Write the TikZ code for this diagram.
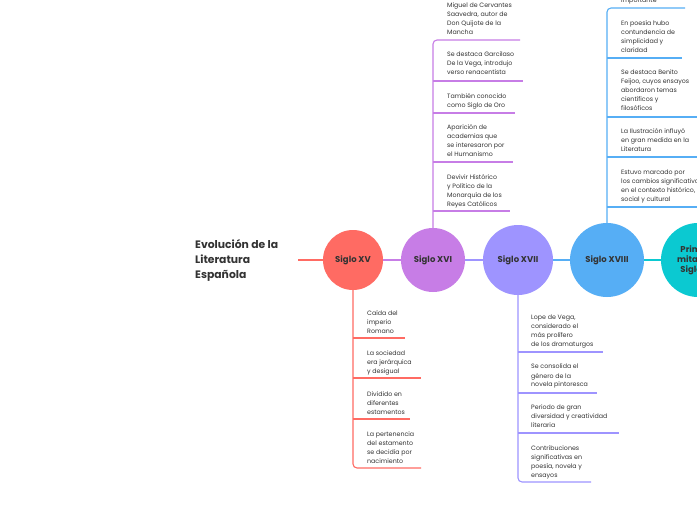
\documentclass[tikz,border=0pt]{standalone}
\usepackage{fontspec}
\setmainfont{Poppins}
\definecolor{cr}{HTML}{FF6B63}
\definecolor{cp}{HTML}{C77DE6}
\definecolor{cl}{HTML}{9E94FF}
\definecolor{cb}{HTML}{56AEF5}
\definecolor{ct}{HTML}{0BC9D1}
\definecolor{tx}{HTML}{333333}
\begin{document}
\begin{tikzpicture}[x=1pt,y=-1pt,
  item/.style={anchor=north west,inner sep=0pt,align=left,text=tx,font=\fontsize{6.3}{9}\selectfont},
  circ/.style={circle,inner sep=0pt,text=tx,font=\fontsize{8.5}{10}\selectfont\bfseries,align=center},
  br/.style={line width=1.1pt,rounded corners=4pt}]
\useasboundingbox (0,0) rectangle (697,520);
\clip (0,0) rectangle (697,520);
\fill[white] (0,0) rectangle (697,520);
% title
\node[anchor=north west,inner sep=0pt,align=left,text=tx,font=\fontsize{10.8}{15}\selectfont\bfseries] (title) at (195,239) {Evolución de la\\Literatura\\Española};
\coordinate (t0) at (298,260);
% circles
\node[circ,fill=cr,minimum size=60pt] (c15) at (353,260) {Siglo XV};
\node[circ,fill=cp,minimum size=64pt] (c16) at (433,260) {Siglo XVI};
\node[circ,fill=cl,minimum size=70pt] (c17) at (518,260) {Siglo XVII};
\node[circ,fill=cb,minimum size=74pt] (c18) at (607,260) {Siglo XVIII};
\node[circ,fill=ct,minimum size=74pt] (c19) at (698,260) {Primera\\mitad del\\Siglo XX};
\draw[cr,line width=1.6pt] (t0) -- (c15.west);
\draw[cp,line width=1.6pt] (c15.east) -- (c16.west);
\draw[cl,line width=1.6pt] (c16.east) -- (c17.west);
\draw[cb,line width=1.6pt] (c17.east) -- (c18.west);
\draw[ct,line width=1.6pt] (c18.east) -- (c19.west);
% Siglo XV
\draw[cr,br] (c15.south) -- (353,468) -- (421,468);
\draw[cr,line width=1.1pt] (353,338) -- (405,338);
\draw[cr,line width=1.1pt] (353,378) -- (421,378);
\draw[cr,line width=1.1pt] (353,419) -- (410,419);
\node[item] (a1) at (367,310) {Caída del\\imperio\\Romano};
\node[item] (a2) at (367,350) {La sociedad\\era jerárquica\\y desigual};
\node[item] (a3) at (367,391) {Dividido en\\diferentes\\estamentos};
\node[item] (a4) at (367,431) {La pertenencia\\del estamento\\se decidía por\\nacimiento};
% Siglo XVI
\draw[cp,br] (c16.north) -- (433,40) -- (520,40);
\draw[cp,line width=1.1pt] (433,81) -- (523,81);
\draw[cp,line width=1.1pt] (433,113) -- (515,113);
\draw[cp,line width=1.1pt] (433,162) -- (513,162);
\draw[cp,line width=1.1pt] (433,211) -- (510,211);
\node[item] (b1) at (447,3) {Miguel de Cervantes\\Saavedra, autor de\\Don Quijote de la\\Mancha};
\node[item] (b2) at (447,52) {Se destaca Garcilaso\\De la Vega, introdujo\\verso renacentista};
\node[item] (b3) at (447,93) {También conocido\\como Siglo de Oro};
\node[item] (b4) at (447,124) {Aparición de\\academias que\\se interesaron por\\el Humanismo};
\node[item] (b5) at (447,174) {Devivir Histórico\\y Político de la\\Monarquía de los\\Reyes Católicos};
% Siglo XVII
\draw[cl,br] (c17.south) -- (518,482) -- (591,482);
\draw[cl,line width=1.1pt] (518,352) -- (603,352);
\draw[cl,line width=1.1pt] (518,393) -- (597,393);
\draw[cl,line width=1.1pt] (518,433) -- (619,433);
\node[item] (d1) at (531,315) {Lope de Vega,\\considerado el\\más prolífero\\de los dramaturgos};
\node[item] (d2) at (531,364) {Se consolida el\\género de la\\novela pintoresca};
\node[item] (d3) at (531,404) {Periodo de gran\\diversidad y creatividad\\literaria};
\node[item] (d4) at (531,445) {Contribuciones\\significativas en\\poesía, novela y\\ensayos};
% Siglo XVIII
\draw[cb,br] (c18.north) -- (607,8) -- (685,8);
\draw[cb,line width=1.1pt] (607,58) -- (682,58);
\draw[cb,line width=1.1pt] (607,117) -- (697,117);
\draw[cb,line width=1.1pt] (607,157) -- (697,157);
\draw[cb,line width=1.1pt] (607,207) -- (697,207);
\node[item] (e0) at (621,-2) {importante};
\node[item] (e1) at (621,20) {En poesía hubo\\contundencia de\\simplicidad y\\claridad};
\node[item] (e2) at (621,70) {Se destaca Benito\\Feijoo, cuyos ensayos\\abordaron temas\\científicos y\\filosóficos};
\node[item] (e3) at (621,128) {La Ilustración influyó\\en gran medida en la\\Literatura};
\node[item] (e4) at (621,170) {Estuvo marcado por\\los cambios significativos\\en el contexto histórico,\\social y cultural};
\end{tikzpicture}
\end{document}
